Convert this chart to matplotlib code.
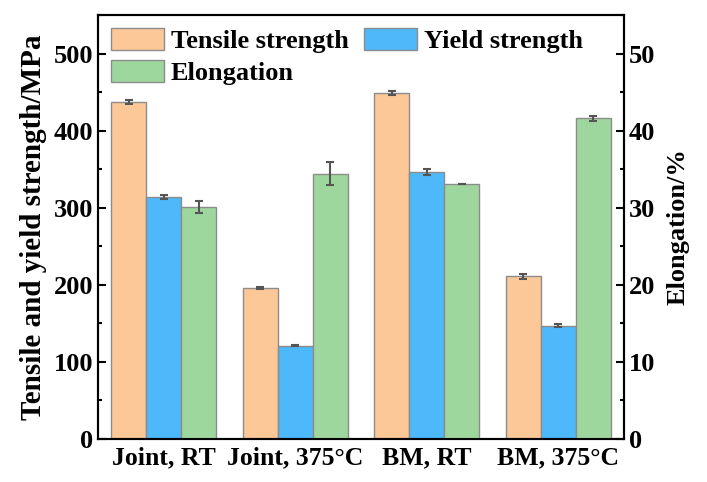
import numpy as np
import matplotlib
matplotlib.use("Agg")
import matplotlib.pyplot as plt
from matplotlib.ticker import MultipleLocator

plt.rcParams['font.family'] = ['Liberation Serif', 'DejaVu Serif']
plt.rcParams['font.weight'] = 'bold'

# data
conditions = ['Joint, RT', 'Joint, 375°C', 'BM, RT', 'BM, 375°C']
tensile = [437, 196, 449, 211]
tensile_err = [3, 1.5, 3, 3]
yield_s = [314, 121, 346, 147]
yield_err = [3, 1, 4, 2]
elongation = [30.1, 34.4, 33.1, 41.6]
elongation_err = [0.8, 1.5, 0, 0.35]

c_tensile = '#FDC897'
c_yield = '#4DB8FA'
c_elong = '#9ED79D'
edge = '#8c8c8c'
err_kw = dict(ecolor='#555555', elinewidth=1.5, capsize=3, capthick=1.5)

fig = plt.figure(figsize=(7.07, 4.82), dpi=100)
ax = fig.add_axes([0.1386, 0.0892, 0.744, 0.8797])
ax2 = ax.twinx()

x = np.arange(len(conditions))
w = 0.8 / 3

b1 = ax.bar(x - w, tensile, w, yerr=tensile_err, color=c_tensile,
            edgecolor=edge, linewidth=1, error_kw=err_kw, label='Tensile strength')
b2 = ax.bar(x, yield_s, w, yerr=yield_err, color=c_yield,
            edgecolor=edge, linewidth=1, error_kw=err_kw, label='Yield strength')
b3 = ax2.bar(x + w, elongation, w, yerr=elongation_err, color=c_elong,
             edgecolor=edge, linewidth=1, error_kw=err_kw, label='Elongation')

ax.set_xlim(-0.5, 3.5)
ax.set_ylim(0, 550)
ax2.set_ylim(0, 55)
ax.set_xticks(x)
ax.set_xticklabels(conditions, fontsize=18.5, fontweight='bold')
ax.tick_params(axis='x', length=0, pad=5)

ax.yaxis.set_major_locator(MultipleLocator(100))
ax.yaxis.set_minor_locator(MultipleLocator(50))
ax2.yaxis.set_major_locator(MultipleLocator(10))
ax2.yaxis.set_minor_locator(MultipleLocator(5))
for a in (ax, ax2):
    a.tick_params(axis='y', which='major', direction='in', length=6, width=1.5, labelsize=19)
    a.tick_params(axis='y', which='minor', direction='in', length=3, width=1.5)
    for s in a.spines.values():
        s.set_linewidth(1.5)
for lab in ax.get_yticklabels() + ax2.get_yticklabels():
    lab.set_fontweight('bold')

ax.set_ylabel('Tensile and yield strength/MPa', fontsize=21, fontweight='bold', labelpad=5)
ax2.set_ylabel('Elongation/%', fontsize=19, fontweight='bold', labelpad=8)

# column-wise fill: Tensile/Yield on first row, Elongation below
ax.legend(handles=[b1, b3, b2], loc='upper left', ncol=2, frameon=False,
          prop={'size': 19, 'weight': 'bold'}, handlelength=2.0, handleheight=0.9,
          handletextpad=0.25, columnspacing=0.6, labelspacing=0.25,
          borderaxespad=0.1, bbox_to_anchor=(0.0, 1.0))

fig.savefig('out.png', dpi=100)
